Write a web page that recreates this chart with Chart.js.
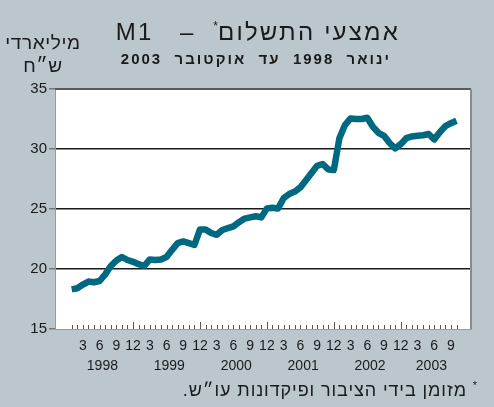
<!DOCTYPE html>
<html>
<head>
<meta charset="utf-8">
<script src="https://cdn.jsdelivr.net/npm/chart.js@4.4.1/dist/chart.umd.min.js"></script>
<style>
  body { margin: 0; background: #bcc7cd; font-family: "Liberation Sans", Arial, "DejaVu Sans", sans-serif; }
  #wrap { position: relative; width: 494px; height: 407px; overflow: hidden; }
  #c { position: absolute; left: 0; top: 0; }
  .txt { position: absolute; color: #1a1a1a; white-space: nowrap; text-align: right; }
  #title { left: 0px; width: 400px; top: 12px; font-size: 24px; line-height: 28px; letter-spacing: 2.2px; }
  #title sup { font-size: 12px; vertical-align: 10px; letter-spacing: 0; }
  #sub { left: 0px; width: 391px; top: 50px; font-size: 15px; font-weight: bold; line-height: 18px; letter-spacing: 2px; }
  #unit { left: 2px; top: 31px; width: 82px; text-align: center; font-size: 19px; line-height: 23px; letter-spacing: 0.6px; }
  #note { left: 0px; width: 478px; top: 374px; font-size: 18px; line-height: 22px; letter-spacing: 0.9px; }
  #note sup { font-size: 11px; vertical-align: 7px; }
</style>
</head>
<body>
<div id="wrap">
  <canvas id="c" width="494" height="407"></canvas>
  <div class="txt" id="title" dir="rtl">אמצעי&nbsp;התשלום<sup>*</sup>&nbsp;&nbsp;–&nbsp;&nbsp;&nbsp;M1</div>
  <div class="txt" id="sub" dir="rtl">ינואר&nbsp;&nbsp;1998&nbsp;&nbsp;עד&nbsp;&nbsp;אוקטובר&nbsp;&nbsp;2003</div>
  <div class="txt" id="unit" dir="rtl">מיליארדי<br>ש״ח</div>
  <div class="txt" id="note" dir="rtl"><sup>*</sup>&nbsp;מזומן&nbsp;בידי&nbsp;הציבור&nbsp;ופיקדונות&nbsp;עו״ש.</div>
</div>
<script>
// ── Data: M1, NIS billions, monthly Jan 1998 – Oct 2003 ────────
const years      = ['1998', '1999', '2000', '2001', '2002', '2003'];
const monthTicks = [3, 6, 9, 12];
const yTicks     = [15, 20, 25, 30, 35];

const m1_1998 = [18.3, 18.4, 18.7, 18.95, 18.9, 19.0, 19.55, 20.25, 20.7, 21.0, 20.75, 20.6];
const m1_1999 = [20.4, 20.25, 20.8, 20.75, 20.8, 21.0, 21.6, 22.15, 22.3, 22.15, 22.0, 23.3];
const m1_2000 = [23.3, 23.0, 22.85, 23.25, 23.4, 23.55, 23.9, 24.2, 24.3, 24.4, 24.3, 25.05];
const m1_2001 = [25.1, 25.05, 25.9, 26.25, 26.45, 26.8, 27.4, 28.0, 28.6, 28.75, 28.3, 28.25];
const m1_2002 = [30.9, 32.0, 32.55, 32.5, 32.5, 32.6, 31.85, 31.35, 31.1, 30.5, 30.05, 30.4];
const m1_2003 = [30.9, 31.05, 31.1, 31.15, 31.25, 30.8, 31.4, 31.9, 32.15, 32.35];

const m1 = [...m1_1998, ...m1_1999, ...m1_2000, ...m1_2001, ...m1_2002, ...m1_2003];

// ── Helpers ────────────────────────────────────────────────────
const FONT   = '"Liberation Sans", Arial, sans-serif';
const points = m1.map((v, i) => ({ x: i, y: v }));
const yearMid = years.map((_, k) => (12 * k + Math.min(12 * k + 11, m1.length - 1)) / 2);

// white plot area + framed border + small inward month ticks
const plotFrame = {
  id: 'plotFrame',
  beforeDraw(chart) {
    const { ctx, chartArea: a } = chart;
    ctx.save();
    ctx.fillStyle = '#ffffff';
    ctx.fillRect(a.left, a.top, a.right - a.left, a.bottom - a.top);
    ctx.restore();
  },
  afterDraw(chart) {
    const { ctx, chartArea: a } = chart;
    const xs = chart.scales.x;
    ctx.save();
    // month ticks pointing up into the plot
    ctx.strokeStyle = '#555';
    ctx.lineWidth = 1;
    m1.forEach((_, i) => {
      const px = Math.round(xs.getPixelForValue(i)) + 0.5;
      const len = (i % 12 === 11) ? 7 : 4;
      ctx.beginPath();
      ctx.moveTo(px, a.bottom);
      ctx.lineTo(px, a.bottom - len);
      ctx.stroke();
    });
    // top and right frame
    ctx.strokeStyle = '#5a5a5a';
    ctx.lineWidth = 2;
    ctx.beginPath();
    ctx.moveTo(a.left, a.top);
    ctx.lineTo(a.right, a.top);
    ctx.stroke();
    ctx.strokeStyle = '#8a8a8a';
    ctx.beginPath();
    ctx.moveTo(a.right, a.top);
    ctx.lineTo(a.right, a.bottom);
    ctx.stroke();
    ctx.restore();
  },
};

// ── Chart ──────────────────────────────────────────────────────
new Chart(document.getElementById('c'), {
  type: 'line',
  data: {
    datasets: [{
      data: points,
      borderColor: '#006982',
      borderWidth: 6.5,
      pointRadius: 0,
      tension: 0,
      borderCapStyle: 'butt',
      borderJoinStyle: 'round',
    }],
  },
  options: {
    responsive: false,
    animation: false,
    devicePixelRatio: 1,
    layout: { padding: { top: 89, right: 23, left: 0, bottom: 36 } },
    plugins: { legend: { display: false }, tooltip: { enabled: false } },
    scales: {
      x: {
        type: 'linear',
        min: -3,
        max: 71.6,
        afterBuildTicks: s => { s.ticks = m1.map((_, i) => ({ value: i })); },
        afterFit: s => { s.height = 22; },
        ticks: {
          autoSkip: false,
          maxRotation: 0,
          padding: 9,
          color: '#1a1a1a',
          font: { family: FONT, size: 14 },
          callback: v => monthTicks.includes(v % 12 + 1) ? String(v % 12 + 1) : '',
        },
        grid: { display: false, drawTicks: false },
        border: { display: true, color: '#9a9a9a', width: 1 },
      },
      x2: {
        type: 'linear',
        position: 'bottom',
        min: -3,
        max: 71.6,
        afterBuildTicks: s => { s.ticks = yearMid.map(v => ({ value: v })); },
        afterFit: s => { s.height = 20; },
        ticks: {
          autoSkip: false,
          maxRotation: 0,
          padding: 7,
          color: '#1a1a1a',
          font: { family: FONT, size: 14 },
          callback: v => years[yearMid.indexOf(v)] ?? '',
        },
        grid: { display: false, drawTicks: false },
        border: { display: false },
      },
      y: {
        min: 15,
        max: 35,
        afterBuildTicks: s => { s.ticks = yTicks.map(v => ({ value: v })); },
        afterFit: s => { s.width = 55; },
        ticks: {
          padding: 2,
          color: '#1a1a1a',
          font: { family: FONT, size: 15 },
        },
        grid: {
          color: c => (c.tick && c.tick.value > 15 && c.tick.value < 35) ? '#1a1a1a' : 'rgba(0,0,0,0)',
          lineWidth: 1.5,
          tickColor: '#777',
          tickLength: 6,
        },
        border: { display: true, color: '#9a9a9a', width: 1 },
      },
    },
  },
  plugins: [plotFrame],
});
</script>
</body>
</html>
